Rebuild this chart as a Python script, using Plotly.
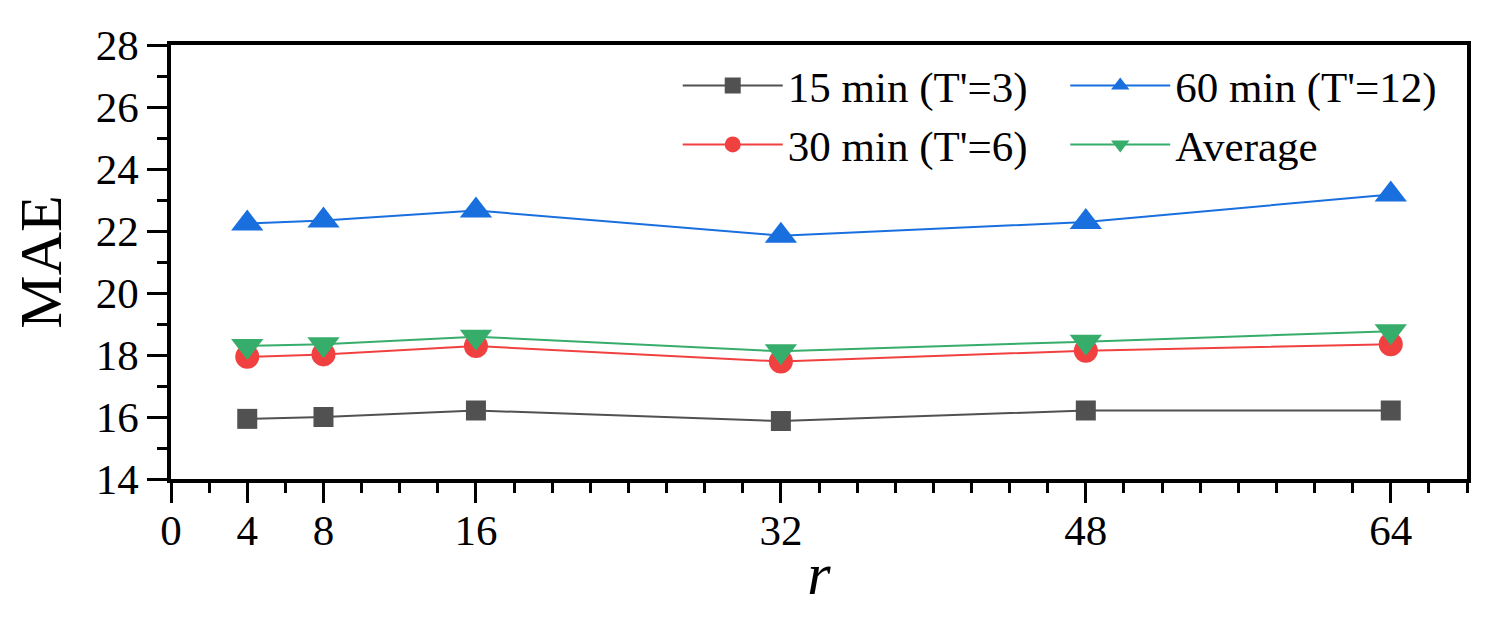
import plotly.graph_objects as go

r_values = [4, 8, 16, 32, 48, 64]
mae_15 = [15.94, 16.00, 16.21, 15.87, 16.21, 16.21]
mae_30 = [17.94, 18.02, 18.29, 17.79, 18.14, 18.35]
mae_60 = [22.24, 22.34, 22.66, 21.85, 22.29, 23.18]
mae_avg = [18.29, 18.35, 18.59, 18.12, 18.43, 18.77]

x_ticks = [0, 4, 8, 16, 32, 48, 64]

FONT = "Liberation Serif, Times New Roman, serif"

series = [
    ("15 min (T'=3)", mae_15, "#515151", "square", 20, "legend"),
    ("30 min (T'=6)", mae_30, "#F14040", "circle", 24, "legend"),
    ("60 min (T'=12)", mae_60, "#1A6FDF", "triangle-up", 28, "legend2"),
    ("Average", mae_avg, "#37AD6B", "triangle-down", 28, "legend2"),
]

fig = go.Figure()
for name, vals, color, symbol, size, leg in series:
    fig.add_trace(
        go.Scatter(
            x=r_values,
            y=vals,
            name=name,
            mode="lines+markers",
            line=dict(color=color, width=2),
            marker=dict(color=color, symbol=symbol, size=size),
            legend=leg,
        )
    )

axis_common = dict(
    showline=True,
    linecolor="black",
    linewidth=3.5,
    mirror=True,
    showgrid=False,
    zeroline=False,
    ticks="outside",
    ticklen=20,
    tickwidth=3,
    tickcolor="black",
    tickfont=dict(family=FONT, size=43, color="black"),
)

legend_common = dict(
    font=dict(family=FONT, size=43, color="black"),
    bgcolor="rgba(0,0,0,0)",
    yanchor="top",
    xanchor="left",
    tracegroupgap=0,
    itemwidth=100,
)

fig.update_layout(
    width=1495,
    height=618,
    margin=dict(l=163, r=36, t=37, b=147),
    plot_bgcolor="white",
    paper_bgcolor="white",
    font=dict(family=FONT, color="black"),
    xaxis=dict(
        **axis_common,
        range=[0, 68],
        tickmode="array",
        tickvals=x_ticks,
        ticklabelstandoff=-9,
        minor=dict(tickmode="linear", tick0=0, dtick=2, ticklen=10,
                   tickwidth=3, tickcolor="black", ticks="outside"),
        title=dict(text="<i>r</i>", font=dict(family=FONT, size=60), standoff=0),
    ),
    yaxis=dict(
        **axis_common,
        range=[14, 28],
        dtick=2,
        minor=dict(dtick=1, ticklen=10, tickwidth=3, tickcolor="black",
                   ticks="outside"),
        title=dict(text="MAE", font=dict(family=FONT, size=60), standoff=22),
    ),
    legend=dict(**legend_common, x=0.391, y=0.986),
    legend2=dict(**legend_common, x=0.69, y=0.986),
)

fig.write_html("out.html")
